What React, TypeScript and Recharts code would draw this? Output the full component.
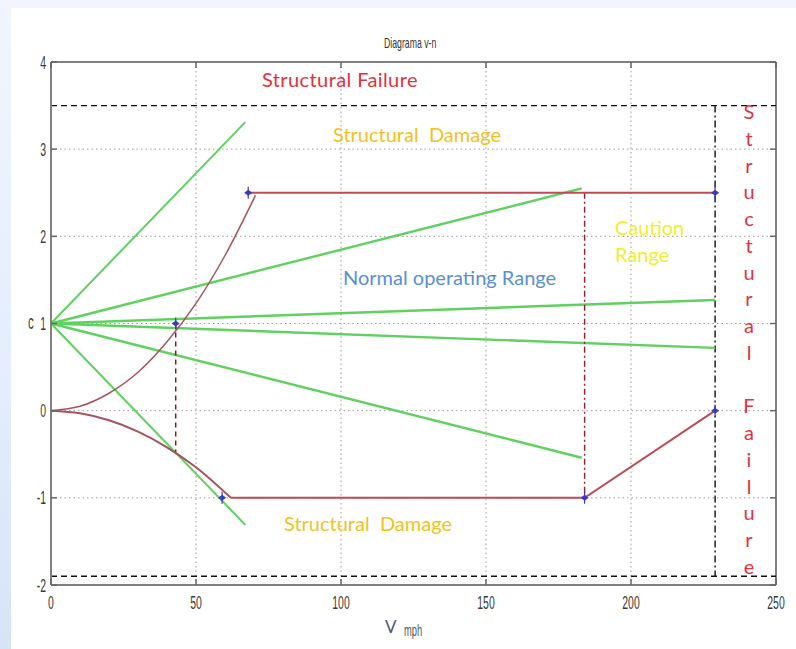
import React from "react";
import {
  ComposedChart,
  Line,
  Scatter,
  XAxis,
  YAxis,
  CartesianGrid,
  ReferenceLine,
} from "recharts";

// ---- axis ticks ----
const V_TICKS = [0, 50, 100, 150, 200, 250];
const N_TICKS = [-2, -1, 0, 1, 2, 3, 4];

// ---- structural limits ----
const LIMIT_UPPER = [
  { v: 0, n: 3.5 },
  { v: 250, n: 3.5 },
];
const LIMIT_LOWER = [
  { v: 0, n: -1.9 },
  { v: 250, n: -1.9 },
];
const LIMIT_VD = [
  { v: 229, n: 3.5 },
  { v: 229, n: -1.9 },
];

// ---- gust lines from n = 1 ----
const GUST_STEEP_UP = [
  { v: 0, n: 1 },
  { v: 67, n: 3.31 },
];
const GUST_STEEP_DOWN = [
  { v: 0, n: 1 },
  { v: 67, n: -1.31 },
];
const GUST_MID_UP = [
  { v: 0, n: 1 },
  { v: 183, n: 2.55 },
];
const GUST_MID_DOWN = [
  { v: 0, n: 1 },
  { v: 183, n: -0.54 },
];
const GUST_LOW_UP = [
  { v: 0, n: 1 },
  { v: 229, n: 1.27 },
];
const GUST_LOW_DOWN = [
  { v: 0, n: 1 },
  { v: 229, n: 0.72 },
];

// ---- maneuver envelope ----
const STALL_POS = [
  { v: 0, n: 0 },
  { v: 10, n: 0.05 },
  { v: 20, n: 0.2 },
  { v: 30, n: 0.44 },
  { v: 40, n: 0.79 },
  { v: 50, n: 1.23 },
  { v: 60, n: 1.78 },
  { v: 70.5, n: 2.47 },
];
const STALL_NEG = [
  { v: 0, n: 0 },
  { v: 10, n: -0.03 },
  { v: 20, n: -0.11 },
  { v: 30, n: -0.24 },
  { v: 40, n: -0.42 },
  { v: 50, n: -0.65 },
  { v: 62, n: -1 },
];
const ENV_TOP = [
  { v: 68, n: 2.5 },
  { v: 229, n: 2.5 },
];
const ENV_BOTTOM = [
  { v: 62, n: -1 },
  { v: 184, n: -1 },
  { v: 229, n: 0 },
];
const VA_LINE = [
  { v: 43, n: 1 },
  { v: 43, n: -0.48 },
];
const VC_LINE = [
  { v: 184, n: 2.5 },
  { v: 184, n: -1 },
];
const KEY_POINTS = [
  { v: 68, n: 2.5 },
  { v: 229, n: 2.5 },
  { v: 43, n: 1 },
  { v: 59, n: -1 },
  { v: 184, n: -1 },
  { v: 229, n: 0 },
];

// vertical label on the right
const SIDE_LETTERS = "Structural Failure".split("");

// ---- layout ----
const W = 796;
const H = 649;
const PLOT_LEFT = 51;
const PLOT_RIGHT = 776;
const PLOT_TOP = 62;
const PLOT_BOTTOM = 585;

const TICK_FONT = "'Liberation Sans', Arial, sans-serif";
const NOTE_FONT = "Lato, 'Open Sans', sans-serif";
const NARROW = 0.58;

const GREEN = "#5fd160";
const RED = "#c24a55";
const STALL = "#a8535d";

const YTick = (props: any) => {
  const { y, payload } = props;
  return (
    <g>
      <line x1={PLOT_LEFT} x2={PLOT_LEFT + 6} y1={y} y2={y} stroke="#666" strokeWidth={1.5} />
      <line x1={PLOT_RIGHT - 6} x2={PLOT_RIGHT} y1={y} y2={y} stroke="#666" strokeWidth={1.5} />
      <text
        transform={`translate(${PLOT_LEFT - 5},${y + 6.5}) scale(${NARROW},1)`}
        textAnchor="end"
        fontFamily={TICK_FONT}
        fontSize={18}
        fill="#3a3a3a"
      >
        {payload.value}
      </text>
    </g>
  );
};

const XTick = (props: any) => {
  const { x, payload } = props;
  return (
    <g>
      <line x1={x} x2={x} y1={PLOT_BOTTOM} y2={PLOT_BOTTOM - 6} stroke="#666" strokeWidth={1.5} />
      <line x1={x} x2={x} y1={PLOT_TOP} y2={PLOT_TOP + 6} stroke="#666" strokeWidth={1.5} />
      <text
        transform={`translate(${x},${PLOT_BOTTOM + 24}) scale(${NARROW},1)`}
        textAnchor="middle"
        fontFamily={TICK_FONT}
        fontSize={18}
        fill="#3a3a3a"
      >
        {payload.value}
      </text>
    </g>
  );
};

const Marker = (props: any) => {
  const { cx, cy } = props;
  return (
    <g>
      <path
        d={`M${cx - 4},${cy} L${cx},${cy - 3} L${cx + 4},${cy} L${cx},${cy + 3} Z`}
        fill="#3a3ac8"
      />
      <line x1={cx} x2={cx} y1={cy - 6} y2={cy + 6} stroke="#3a3ac8" strokeWidth={1.2} />
    </g>
  );
};

const note = (
  text: string,
  left: number,
  top: number,
  color: string,
  size: number,
  extra: React.CSSProperties = {}
) => (
  <div
    style={{
      position: "absolute",
      left,
      top,
      color,
      fontFamily: NOTE_FONT,
      fontSize: size,
      lineHeight: 1,
      whiteSpace: "pre",
      ...extra,
    }}
  >
    {text}
  </div>
);

const line = (
  data: any[],
  stroke: string,
  width: number,
  dash?: string,
  curve: "linear" | "monotone" = "linear"
) => (
  <Line
    data={data}
    dataKey="n"
    type={curve}
    stroke={stroke}
    strokeWidth={width}
    strokeDasharray={dash}
    dot={false}
    activeDot={false}
    isAnimationActive={false}
    legendType="none"
  />
);

const narrowText = (
  text: string,
  left: number,
  top: number,
  size: number,
  color: string
) => (
  <div
    style={{
      position: "absolute",
      left,
      top,
      fontFamily: TICK_FONT,
      fontSize: size,
      lineHeight: 1,
      color,
      whiteSpace: "pre",
      transform: `scaleX(${NARROW})`,
      transformOrigin: "0 0",
    }}
  >
    {text}
  </div>
);

export default function App() {
  return (
    <div
      style={{
        position: "absolute",
        left: 0,
        top: 0,
        width: W,
        height: H,
        background: "linear-gradient(180deg, #f1f6fd 0%, #e3edfb 60%, #d6e4f8 100%)",
        overflow: "hidden",
      }}
    >
      <div
        style={{
          position: "absolute",
          left: 11,
          top: 8,
          right: 0,
          bottom: 0,
          background: "#ffffff",
        }}
      />
      <div style={{ position: "absolute", left: 0, top: 0 }}>
        <ComposedChart
          width={W}
          height={H}
          margin={{ top: PLOT_TOP, right: W - PLOT_RIGHT, bottom: 24, left: PLOT_LEFT - 40 }}
        >
          <CartesianGrid stroke="#9a9a9a" strokeDasharray="1.5 3" strokeWidth={1} />
          <XAxis
            type="number"
            dataKey="v"
            domain={[0, 250]}
            ticks={V_TICKS}
            height={40}
            axisLine={{ stroke: "#808080", strokeWidth: 2 }}
            tickLine={false}
            tick={<XTick />}
            allowDuplicatedCategory={false}
          />
          <YAxis
            type="number"
            dataKey="n"
            domain={[-2, 4]}
            ticks={N_TICKS}
            width={40}
            axisLine={{ stroke: "#808080", strokeWidth: 2 }}
            tickLine={false}
            tick={<YTick />}
          />
          <ReferenceLine y={4} stroke="#808080" strokeWidth={2} />
          <ReferenceLine x={250} stroke="#808080" strokeWidth={2} />

          {line(LIMIT_UPPER, "#111", 1.4, "6 4")}
          {line(LIMIT_LOWER, "#111", 1.4, "6 4")}
          {line(LIMIT_VD, "#111", 1.4, "7 3 2 3")}

          {line(GUST_STEEP_UP, GREEN, 2)}
          {line(GUST_STEEP_DOWN, GREEN, 2)}
          {line(GUST_MID_UP, GREEN, 2.4)}
          {line(GUST_MID_DOWN, GREEN, 2.4)}
          {line(GUST_LOW_UP, GREEN, 2.4)}
          {line(GUST_LOW_DOWN, GREEN, 2.4)}

          {line(VA_LINE, "#8e1420", 1.5, "5 4")}
          {line(VC_LINE, "#9a1a26", 1.4, "6 3 2 3")}

          {line(STALL_POS, STALL, 1.5, undefined, "monotone")}
          {line(STALL_NEG, STALL, 2, undefined, "monotone")}
          {line(ENV_TOP, RED, 2)}
          {line(ENV_BOTTOM, RED, 2)}

          <Scatter
            data={KEY_POINTS}
            dataKey="n"
            shape={<Marker />}
            isAnimationActive={false}
            legendType="none"
          />
        </ComposedChart>
      </div>

      {/* title and axis names */}
      {narrowText("Diagrama v-n", 384, 35, 15, "#333")}
      {narrowText("c", 28, 312, 20, "#444")}
      <div
        style={{
          position: "absolute",
          left: 385,
          top: 616,
          fontFamily: NOTE_FONT,
          fontSize: 17,
          color: "#505878",
        }}
      >
        V
      </div>
      {narrowText("mph", 404, 623, 16, "#555")}

      {/* region annotations */}
      {note("Structural Failure", 262, 69, "#e2323a", 20, { letterSpacing: 0.4 })}
      {note("Structural  Damage", 333, 124, "#f3c21c", 20)}
      {note("Caution", 615, 217, "#f1ef2a", 20)}
      {note("Range", 615, 244, "#f1ef2a", 20)}
      {note("Normal operating Range", 343, 267, "#5a8fd6", 20)}
      {note("Structural  Damage", 284, 513, "#f3c21c", 20)}

      {SIDE_LETTERS.map((ch, i) => (
        <div
          key={i}
          style={{
            position: "absolute",
            left: 737,
            top: 101 + i * 26.76,
            width: 24,
            textAlign: "center",
            fontFamily: NOTE_FONT,
            fontSize: 20,
            lineHeight: 1,
            color: "#e2323a",
          }}
        >
          {ch}
        </div>
      ))}
    </div>
  );
}
